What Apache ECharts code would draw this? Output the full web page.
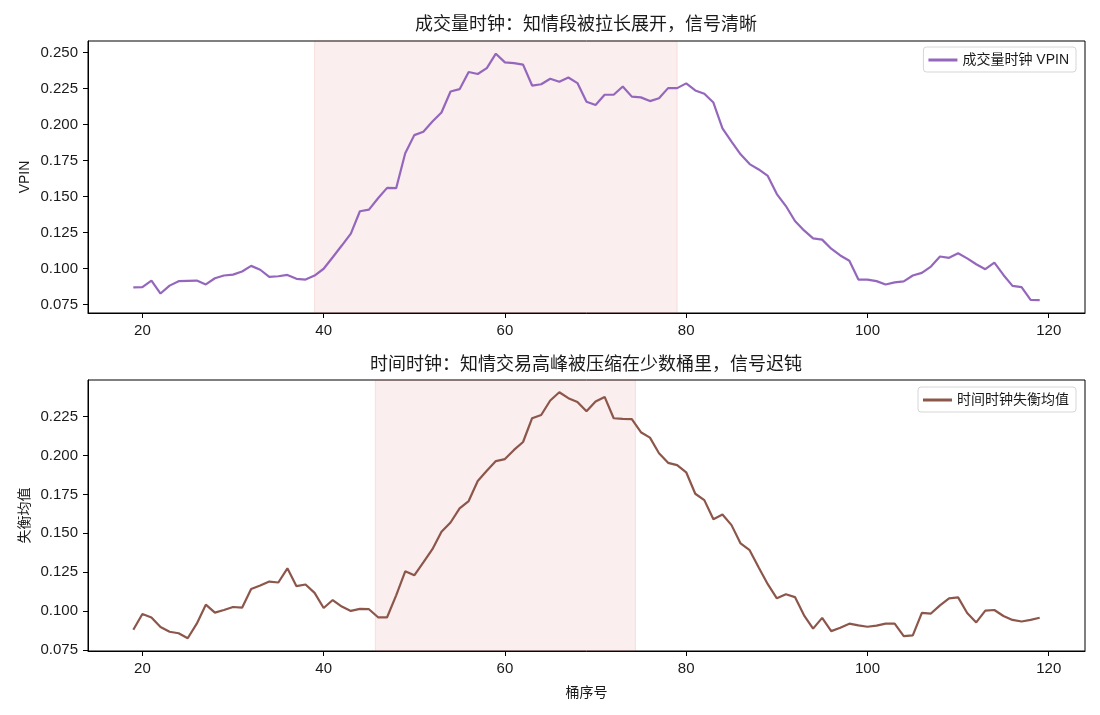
<!DOCTYPE html>
<html>
<head>
<meta charset="utf-8">
<title>VPIN vs time clock</title>
<script src="https://cdn.jsdelivr.net/npm/echarts@6/dist/echarts.min.js"></script>
<style>
  html, body { margin: 0; padding: 0; background: #fff; }
  #chart { width: 1100px; height: 715px; }
</style>
</head>
<body>
<div id="chart"></div>
<script>
// bucket index on the x axis (19 .. 119)
var bucketIds = []
for (var b = 19; b <= 119; b++) {
  bucketIds.push(b)
}

var xTicks = [20, 40, 60, 80, 100, 120]
var vpinTicks = [0.075, 0.100, 0.125, 0.150, 0.175, 0.200, 0.225, 0.250]
var imbTicks = [0.075, 0.100, 0.125, 0.150, 0.175, 0.200, 0.225]

var vpinValues = [
  0.0870, 0.0872, 0.0917, 0.0827, 0.0882, 0.0913, 0.0915, 0.0917, 0.0890, 0.0933,
  0.0952, 0.0958, 0.0980, 0.1019, 0.0992, 0.0943, 0.0947, 0.0956, 0.0929, 0.0924,
  0.0952, 0.0999, 0.1079, 0.1160, 0.1243, 0.1398, 0.1409, 0.1488, 0.1560, 0.1558,
  0.1800, 0.1926, 0.1950, 0.2020, 0.2083, 0.2229, 0.2245, 0.2364, 0.2350, 0.2391,
  0.2491, 0.2431, 0.2426, 0.2415, 0.2270, 0.2279, 0.2317, 0.2296, 0.2326, 0.2287,
  0.2157, 0.2135, 0.2206, 0.2206, 0.2263, 0.2193, 0.2188, 0.2162, 0.2182, 0.2252,
  0.2252, 0.2285, 0.2236, 0.2213, 0.2152, 0.1973, 0.1881, 0.1793, 0.1725, 0.1688,
  0.1643, 0.1517, 0.1434, 0.1330, 0.1265, 0.1210, 0.1201, 0.1138, 0.1091, 0.1054,
  0.0924, 0.0924, 0.0913, 0.0890, 0.0904, 0.0911, 0.0952, 0.0970, 0.1014, 0.1084,
  0.1075, 0.1106, 0.1071, 0.1030, 0.0996, 0.1041, 0.0956, 0.0880, 0.0872, 0.0783, 0.0781
]

var imbalanceValues = [
  0.0879, 0.0980, 0.0957, 0.0896, 0.0866, 0.0856, 0.0824, 0.0918, 0.1040, 0.0989,
  0.1006, 0.1025, 0.1021, 0.1141, 0.1163, 0.1189, 0.1183, 0.1274, 0.1159, 0.1170,
  0.1116, 0.1019, 0.1070, 0.1028, 0.1000, 0.1013, 0.1011, 0.0959, 0.0959, 0.1100,
  0.1255, 0.1229, 0.1312, 0.1397, 0.1509, 0.1569, 0.1660, 0.1707, 0.1836, 0.1902,
  0.1964, 0.1977, 0.2036, 0.2087, 0.2240, 0.2261, 0.2354, 0.2407, 0.2369, 0.2345,
  0.2285, 0.2347, 0.2377, 0.2240, 0.2236, 0.2234, 0.2150, 0.2115, 0.2015, 0.1953,
  0.1938, 0.1892, 0.1754, 0.1713, 0.1590, 0.1620, 0.1552, 0.1434, 0.1391, 0.1280,
  0.1172, 0.1081, 0.1107, 0.1089, 0.0972, 0.0886, 0.0955, 0.0870, 0.0892, 0.0918,
  0.0907, 0.0898, 0.0905, 0.0918, 0.0918, 0.0838, 0.0843, 0.0987, 0.0983, 0.1036,
  0.1081, 0.1087, 0.0987, 0.0926, 0.1002, 0.1006, 0.0967, 0.0942, 0.0932, 0.0942, 0.0956
]

// informed-trading windows (bucket units)
var vpinWindow = [39, 79]
var timeWindow = [45.7, 74.4]

var FONT = "'Liberation Sans', 'Noto Sans CJK SC', sans-serif"
var TEXT = '#1a1a1a'

function pairs (ys) {
  return bucketIds.map(function (x, i) { return [x, ys[i]] })
}

function xAxisOpt (idx, withName) {
  return {
    type: 'value',
    gridIndex: idx,
    min: 14,
    max: 124,
    name: withName ? '桶序号' : '',
    nameLocation: 'middle',
    nameGap: 35,
    nameMoveOverlap: false,
    nameTextStyle: { color: TEXT, fontSize: 14, fontFamily: FONT },
    splitLine: { show: false },
    axisLine: { show: true, onZero: false, lineStyle: { color: '#000', width: 1 } },
    axisTick: { show: true, customValues: xTicks, length: 5, inside: false, lineStyle: { color: '#000' } },
    axisLabel: { customValues: xTicks, color: TEXT, fontSize: 15, fontFamily: FONT, margin: 10 }
  }
}

function yAxisOpt (idx, name, lo, hi, ticks) {
  return {
    type: 'value',
    gridIndex: idx,
    min: lo,
    max: hi,
    name: name,
    nameLocation: 'middle',
    nameGap: 56,
    nameMoveOverlap: false,
    nameTextStyle: { color: TEXT, fontSize: 14, fontFamily: FONT },
    splitLine: { show: false },
    axisLine: { show: true, lineStyle: { color: '#000', width: 1 } },
    axisTick: { show: true, customValues: ticks, length: 5, lineStyle: { color: '#000' } },
    axisLabel: {
      customValues: ticks,
      color: TEXT,
      fontSize: 15,
      fontFamily: FONT,
      margin: 10,
      formatter: function (v) { return v.toFixed(3) }
    }
  }
}

function legendOpt (top, name) {
  return {
    data: [name],
    right: 24,
    top: top,
    orient: 'vertical',
    icon: 'rect',
    itemWidth: 29,
    itemHeight: 3,
    itemGap: 8,
    padding: [6, 7, 5, 5],
    borderColor: '#d6d6d6',
    borderWidth: 1,
    borderRadius: 3,
    backgroundColor: 'rgba(255,255,255,0.85)',
    textStyle: { color: TEXT, fontSize: 14, fontFamily: FONT }
  }
}

function shade (win) {
  return {
    silent: true,
    itemStyle: {
      color: 'rgba(205,70,70,0.095)',
      borderColor: 'rgba(205,70,70,0.13)',
      borderWidth: 1
    },
    data: [[{ xAxis: win[0] }, { xAxis: win[1] }]]
  }
}

var chart = echarts.init(document.getElementById('chart'), null, { renderer: 'canvas' })

chart.setOption({
  backgroundColor: '#fff',
  animation: false,
  title: [{
    text: '成交量时钟：知情段被拉长展开，信号清晰',
    left: 586,
    top: 16,
    textAlign: 'center',
    padding: 0,
    textStyle: { color: TEXT, fontSize: 18, fontWeight: 'normal', fontFamily: FONT }
  }, {
    text: '时间时钟：知情交易高峰被压缩在少数桶里，信号迟钝',
    left: 586,
    top: 356,
    textAlign: 'center',
    padding: 0,
    textStyle: { color: TEXT, fontSize: 18, fontWeight: 'normal', fontFamily: FONT }
  }],
  legend: [
    legendOpt(47, '成交量时钟 VPIN'),
    legendOpt(387, '时间时钟失衡均值')
  ],
  grid: [
    { left: 88, right: 15, top: 41, height: 272, show: true, borderColor: '#000', borderWidth: 1, backgroundColor: 'transparent' },
    { left: 88, right: 15, top: 380, height: 271, show: true, borderColor: '#000', borderWidth: 1, backgroundColor: 'transparent' }
  ],
  xAxis: [xAxisOpt(0, false), xAxisOpt(1, true)],
  yAxis: [
    yAxisOpt(0, 'VPIN', 0.0692, 0.2579, vpinTicks),
    yAxisOpt(1, '失衡均值', 0.0742, 0.2486, imbTicks)
  ],
  series: [{
    name: '成交量时钟 VPIN',
    type: 'line',
    xAxisIndex: 0,
    yAxisIndex: 0,
    symbol: 'none',
    lineStyle: { color: '#9467bd', width: 2.2 },
    itemStyle: { color: '#9467bd' },
    markArea: shade(vpinWindow),
    data: pairs(vpinValues)
  }, {
    name: '时间时钟失衡均值',
    type: 'line',
    xAxisIndex: 1,
    yAxisIndex: 1,
    symbol: 'none',
    lineStyle: { color: '#8c564b', width: 2.2 },
    itemStyle: { color: '#8c564b' },
    markArea: shade(timeWindow),
    data: pairs(imbalanceValues)
  }]
})
</script>
</body>
</html>
